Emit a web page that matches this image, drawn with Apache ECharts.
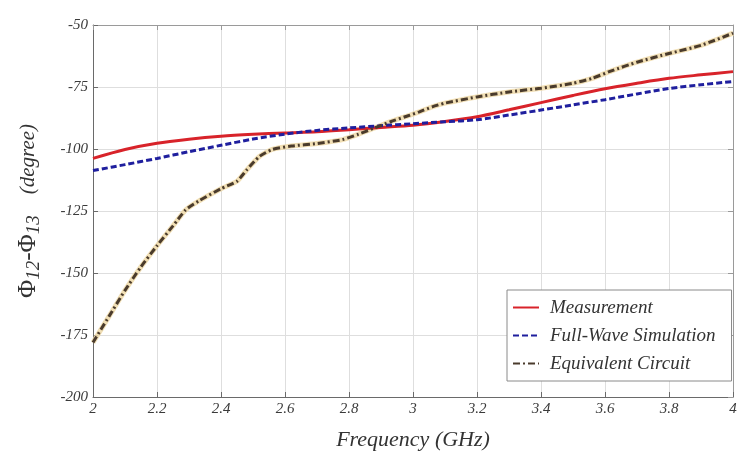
<!DOCTYPE html>
<html>
<head>
<meta charset="utf-8">
<script src="https://cdn.jsdelivr.net/npm/echarts@6/dist/echarts.min.js"></script>
<style>
  html, body { margin: 0; padding: 0; background: #fff; }
  #chart { width: 742px; height: 460px; }
</style>
</head>
<body>
<div id="chart"></div>
<script>
// Frequency grid (GHz) shared by the measured and simulated curves
const freqGrid = [2.0, 2.1, 2.2, 2.3, 2.4, 2.5, 2.6, 2.7, 2.8, 2.9, 3.0,
                  3.1, 3.2, 3.3, 3.4, 3.5, 3.6, 3.7, 3.8, 3.9, 4.0];

// Phase difference phi12 - phi13 (degree)
const measurement = [-103.8, -100.2, -97.7, -96.1, -94.9, -94.1, -93.5, -93.0, -92.2, -91.3, -90.4,
                     -88.9, -87.0, -84.2, -81.3, -78.4, -75.7, -73.5, -71.5, -70.1, -68.8];
const fullWave =    [-108.7, -106.3, -103.8, -101.1, -98.5, -96.0, -94.0, -92.5, -91.5, -90.6, -89.8,
                     -89.0, -88.2, -86.3, -84.3, -82.2, -80.1, -77.8, -75.6, -74.1, -72.8];

// Equivalent-circuit model, sampled more densely where it bends
const freqCircuit = [2.00, 2.05, 2.10, 2.15, 2.20, 2.25, 2.29, 2.33, 2.40, 2.45, 2.48, 2.52,
                     2.56, 2.62, 2.70, 2.78, 2.83, 2.88, 2.93, 2.98, 3.02, 3.06, 3.10, 3.20,
                     3.30, 3.40, 3.50, 3.56, 3.62, 3.70, 3.80, 3.90, 4.00];
const circuit =     [-178, -167.5, -157, -147.5, -139, -131, -124.5, -121, -116, -113, -108.5, -103,
                     -100.2, -98.8, -97.8, -96.2, -94, -91.5, -89, -86.8, -85, -83, -81.5, -79,
                     -77, -75.5, -73.5, -71.5, -68.5, -65, -61.5, -58.2, -53.3];

const xTicks = { min: 2, max: 4, step: 0.2 };
const yTicks = { min: -200, max: -50, step: 25 };

const seriesNames = ['Measurement', 'Full-Wave Simulation', 'Equivalent Circuit'];

const zip = (xs, ys) => xs.map((x, i) => [x, ys[i]]);

const serif = '"Liberation Serif", "DejaVu Serif", serif';
const labelStyle = { fontFamily: serif, fontStyle: 'italic', fontSize: 15, color: '#3a3a3a' };
const gridColor = '#dedede';
const axisColor = '#6a6a6a';

const chart = echarts.init(document.getElementById('chart'), null, { renderer: 'canvas' });

chart.setOption({
  backgroundColor: '#fff',
  animation: false,
  grid: { left: 93, right: 9, top: 25, bottom: 63 },
  xAxis: [{
    type: 'value',
    min: xTicks.min, max: xTicks.max, interval: xTicks.step,
    name: 'Frequency (GHz)',
    nameLocation: 'middle',
    nameGap: 32,
    nameTextStyle: { fontFamily: serif, fontStyle: 'italic', fontSize: 22, color: '#333' },
    axisLine: { lineStyle: { color: axisColor, width: 1 } },
    axisTick: { inside: true, length: 5, lineStyle: { color: axisColor } },
    axisLabel: Object.assign({ margin: 5, formatter: v => String(+v.toFixed(1)) }, labelStyle),
    splitLine: { show: true, lineStyle: { color: gridColor, width: 1 } }
  }, {
    type: 'value', position: 'top',
    min: xTicks.min, max: xTicks.max, interval: xTicks.step,
    axisLine: { show: true, lineStyle: { color: '#9a9a9a', width: 1 } },
    axisTick: { show: true, inside: true, length: 5, lineStyle: { color: '#9a9a9a' } },
    axisLabel: { show: false },
    splitLine: { show: false }
  }],
  yAxis: [{
    type: 'value',
    min: yTicks.min, max: yTicks.max, interval: yTicks.step,
    name: '{p|Φ}{s|12}{p|-Φ}{s|13}{g|    (degree)}',
    nameLocation: 'middle',
    nameGap: 50,
    nameTextStyle: {
      color: '#333',
      rich: {
        p: { fontFamily: serif, fontSize: 25, color: '#333', lineHeight: 30, verticalAlign: 'middle' },
        s: { fontFamily: serif, fontStyle: 'italic', fontSize: 19, color: '#333', lineHeight: 30, verticalAlign: 'bottom' },
        g: { fontFamily: serif, fontStyle: 'italic', fontSize: 21, color: '#333', lineHeight: 30, verticalAlign: 'middle' }
      }
    },
    axisLine: { show: true, lineStyle: { color: axisColor, width: 1 } },
    axisTick: { show: true, inside: true, length: 5, lineStyle: { color: axisColor } },
    axisLabel: Object.assign({ margin: 5 }, labelStyle),
    splitLine: { show: true, lineStyle: { color: gridColor, width: 1 } }
  }, {
    type: 'value', position: 'right',
    min: yTicks.min, max: yTicks.max, interval: yTicks.step,
    axisLine: { show: true, lineStyle: { color: '#9a9a9a', width: 1 } },
    axisTick: { show: true, inside: true, length: 5, lineStyle: { color: '#9a9a9a' } },
    axisLabel: { show: false },
    splitLine: { show: false }
  }],
  legend: {
    data: seriesNames,
    orient: 'vertical',
    left: 507,
    top: 290,
    padding: [8, 16, 8, 5],
    itemGap: 9,
    itemWidth: 26,
    itemHeight: 20,
    backgroundColor: '#fff',
    borderColor: '#8a8a8a',
    borderWidth: 1,
    borderRadius: 0,
    itemStyle: { opacity: 0 },
    textStyle: { fontFamily: serif, fontStyle: 'italic', fontSize: 19, color: '#333', padding: [0, 0, 0, 6] }
  },
  series: [
    {
      // soft tan outline drawn under the circuit curve
      type: 'line',
      name: 'circuit-outline',
      silent: true,
      data: zip(freqCircuit, circuit),
      symbol: 'none',
      smooth: 0.2,
      z: 1,
      lineStyle: { color: '#efd9a8', width: 5, opacity: 0.85 }
    },
    {
      type: 'line',
      name: seriesNames[0],
      data: zip(freqGrid, measurement),
      symbol: 'none',
      smooth: 0.3,
      z: 3,
      lineStyle: { color: '#d8232a', width: 3 },
      itemStyle: { color: '#d8232a' }
    },
    {
      type: 'line',
      name: seriesNames[1],
      data: zip(freqGrid, fullWave),
      symbol: 'none',
      smooth: 0.3,
      z: 4,
      lineStyle: { color: '#1f1f9e', width: 3, type: [6, 3] },
      itemStyle: { color: '#1f1f9e' }
    },
    {
      type: 'line',
      name: seriesNames[2],
      data: zip(freqCircuit, circuit),
      symbol: 'none',
      smooth: 0.2,
      z: 5,
      lineStyle: { color: '#4a3b2c', width: 3, type: [7, 3, 2, 3] },
      itemStyle: { color: '#4a3b2c' }
    }
  ]
});
</script>
</body>
</html>
